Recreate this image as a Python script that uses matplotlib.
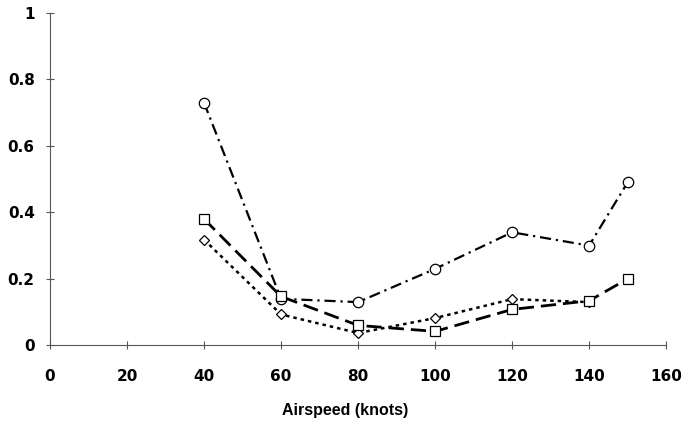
import numpy as np
import matplotlib.pyplot as plt

# Airspeed settings (knots) and the three measured series
airspeed = [40, 60, 80, 100, 120, 140, 150]
circle_vals = [0.73, 0.14, 0.13, 0.23, 0.34, 0.30, 0.49]
square_vals = [0.38, 0.147, 0.06, 0.042, 0.108, 0.134, 0.20]
diamond_speed = [40, 60, 80, 100, 120, 140]
diamond_vals = [0.318, 0.093, 0.037, 0.082, 0.139, 0.13]

x_ticks = [0, 20, 40, 60, 80, 100, 120, 140, 160]
y_ticks = [0, 0.2, 0.4, 0.6, 0.8, 1]
y_tick_labels = ['0', '0.2', '0.4', '0.6', '0.8', '1']

plt.rcParams['font.family'] = ['Liberation Sans', 'DejaVu Sans']

fig = plt.figure(figsize=(6.97, 4.29), dpi=100)
ax = fig.add_axes([0.0717, 0.195, 0.884, 0.775])

# diamonds first so the squares sit on top where they overlap
ax.plot(diamond_speed, diamond_vals, color='black', lw=1.8,
        linestyle=(0, (1.4, 1.6)), marker='D', markersize=5.5,
        markerfacecolor='white', markeredgecolor='black', markeredgewidth=0.9,
        zorder=3)
ax.plot(airspeed, circle_vals, color='black', lw=1.6,
        linestyle=(0, (5, 2.2, 1, 2.2)), marker='o', markersize=7.5,
        markerfacecolor='white', markeredgecolor='black', markeredgewidth=0.9,
        zorder=3)
ax.plot(airspeed, square_vals, color='black', lw=2.0,
        linestyle=(0, (5.5, 2.5)), marker='s', markersize=7.5,
        markerfacecolor='white', markeredgecolor='black', markeredgewidth=0.9,
        zorder=4)

ax.set_xlim(0, 160)
ax.set_ylim(0, 1)
ax.set_xticks(x_ticks)
ax.set_xticklabels([str(t) for t in x_ticks])
ax.set_yticks(y_ticks)
ax.set_yticklabels(y_tick_labels)

for side in ['top', 'right']:
    ax.spines[side].set_visible(False)
for side in ['left', 'bottom']:
    ax.spines[side].set_color('#555555')
    ax.spines[side].set_linewidth(0.8)

ax.tick_params(axis='both', direction='inout', length=6, width=0.8,
               color='#555555', labelsize=11)
ax.tick_params(axis='x', pad=14)
ax.tick_params(axis='y', pad=8)
for lbl in ax.get_xticklabels() + ax.get_yticklabels():
    lbl.set_fontweight('bold')
    lbl.set_fontfamily('DejaVu Sans')

ax.set_xlabel('Airspeed (knots)', fontsize=11.5, fontweight='bold')
ax.xaxis.set_label_coords(0.479, -0.172)

fig.savefig('out.png', dpi=100)
